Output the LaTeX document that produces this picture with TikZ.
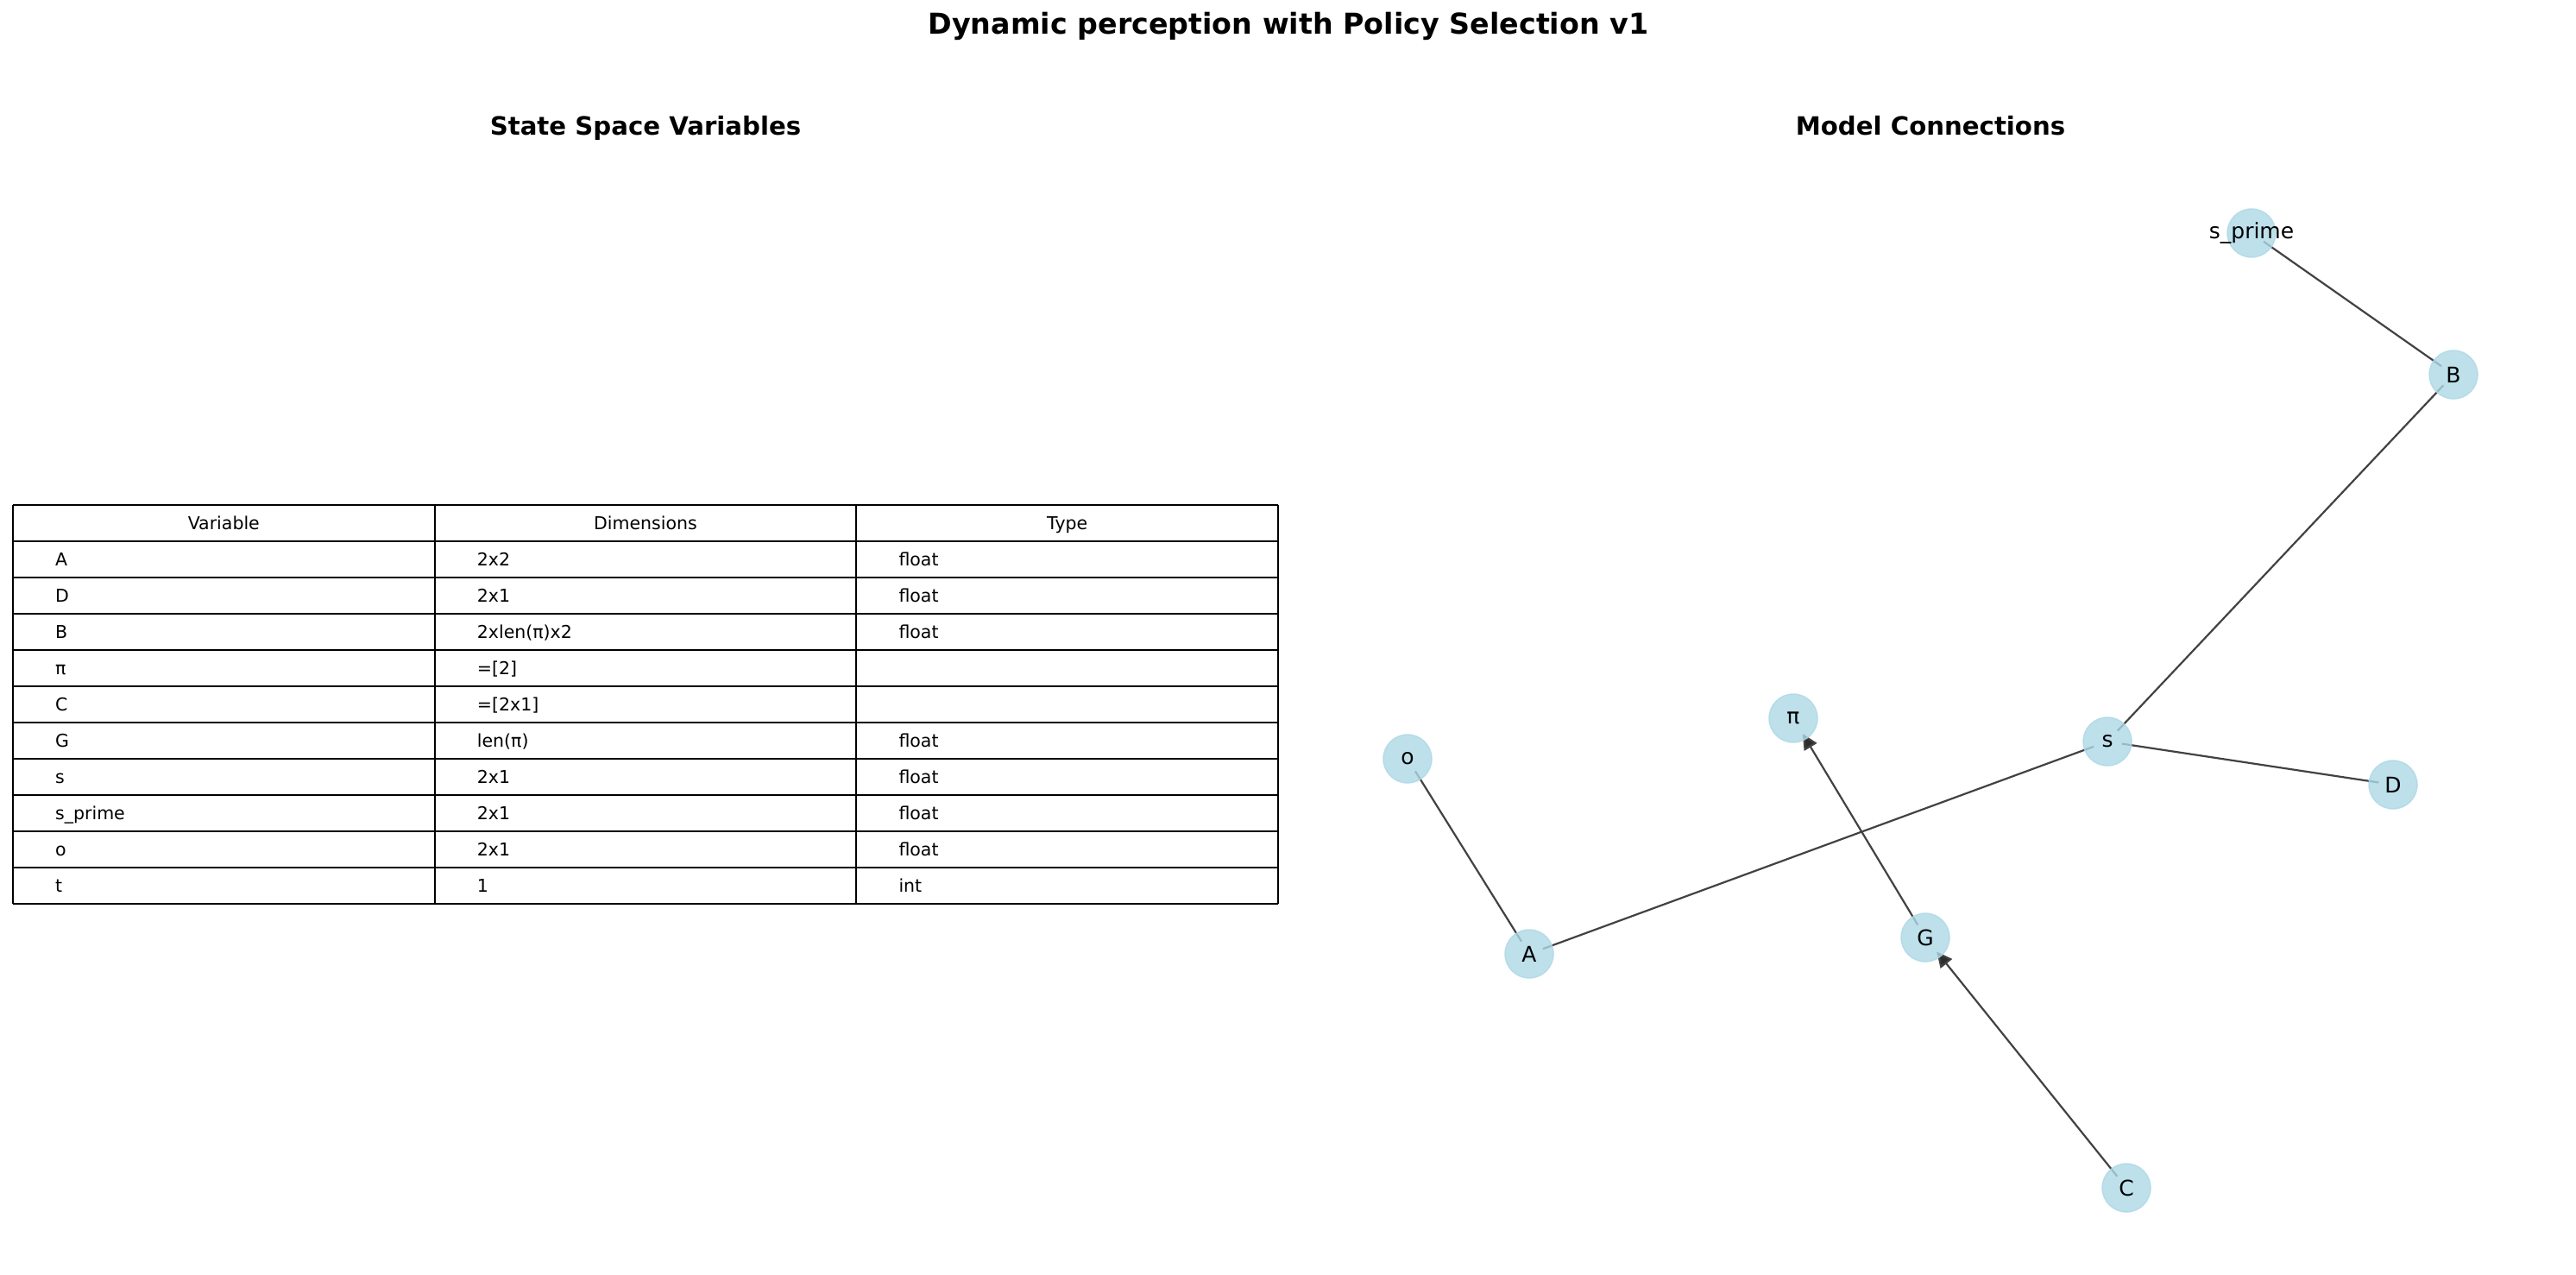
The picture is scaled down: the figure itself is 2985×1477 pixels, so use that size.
\documentclass[tikz,border=0pt]{standalone}
\usepackage{fontspec}
\setmainfont{DejaVu Sans}
\usetikzlibrary{arrows.meta}
\pgfdeclarelayer{background}
\pgfsetlayers{background,main}
\definecolor{nodeblue}{RGB}{173,216,230}
\definecolor{edgegray}{RGB}{66,66,66}
\definecolor{tipgray}{RGB}{45,45,45}
\begin{document}
\begin{tikzpicture}[x=1bp,y=-1bp,
  titlefont/.style={font=\fontsize{33.3bp}{40bp}\selectfont\bfseries},
  subfont/.style={font=\fontsize{29.2bp}{35bp}\selectfont\bfseries},
  cellfont/.style={font=\fontsize{20.5bp}{24bp}\selectfont, inner sep=0pt},
  gridline/.style={line width=2bp, black},
  vtx/.style={circle, minimum size=56bp, inner sep=0pt, fill=nodeblue, fill opacity=0.8,
    draw=nodeblue, draw opacity=0.8, line width=1.5bp, text opacity=1,
    font=\fontsize{25bp}{30bp}\selectfont},
  link/.style={edgegray, line width=2.2bp, shorten <=17bp, shorten >=17bp},
  arrowlink/.style={edgegray, line width=2.2bp, shorten <=17bp, shorten >=21bp,
    -{Triangle[length=18bp,width=17bp,fill=tipgray]}}
]
\useasboundingbox (0,0) rectangle (2985,1477);

% titles
\node[titlefont, anchor=base] (title) at (1493,40) {Dynamic perception with Policy Selection v1};
\node[subfont, anchor=base] (lefttitle) at (748,157) {State Space Variables};
\node[subfont, anchor=base] (righttitle) at (2237,157) {Model Connections};

% table grid
\foreach \i in {0,...,11} {
  \draw[gridline] (15,{585+42*\i}) -- (1481,{585+42*\i});
}
\foreach \x in {15,503.7,992.3,1481} {
  \draw[gridline] (\x,585) -- (\x,1047);
}
% header
\node[cellfont, anchor=base] (h1) at (259.3,613) {Variable};
\node[cellfont, anchor=base] (h2) at (748,613) {Dimensions};
\node[cellfont, anchor=base] (h3) at (1236.7,613) {Type};
% rows
\foreach \a/\b/\c [count=\i] in {
  A/2x2/float,
  D/2x1/float,
  B/{2xlen(π)x2}/float,
  π/{=[2]}/{},
  C/{=[2x1]}/{},
  G/{len(π)}/float,
  s/2x1/float,
  {s\_prime}/2x1/float,
  o/2x1/float,
  t/1/int} {
  \node[cellfont, anchor=base west] (va\i) at (64,{585+42*\i+28}) {\a};
  \node[cellfont, anchor=base west] (vb\i) at (552.7,{585+42*\i+28}) {\b};
  \node[cellfont, anchor=base west] (vc\i) at (1041.3,{585+42*\i+28}) {\c};
}

% graph nodes
\node[vtx] (sp) at (2609,270) {\makebox[0pt]{s\_prime}};
\node[vtx] (B) at (2843,434) {B};
\node[vtx] (s) at (2442,859) {s};
\node[vtx] (D) at (2773,909) {D};
\node[vtx] (pi) at (2078,832) {π};
\node[vtx] (o) at (1631,879) {o};
\node[vtx] (A) at (1772,1105) {A};
\node[vtx] (G) at (2231,1086) {G};
\node[vtx] (C) at (2464,1376) {C};

\begin{pgfonlayer}{background}
  \draw[link] (sp.center) -- (B.center);
  \draw[link] (B.center) -- (s.center);
  \draw[link] (s.center) -- (D.center);
  \draw[link] (s.center) -- (A.center);
  \draw[link] (o.center) -- (A.center);
  \draw[arrowlink] (G.center) -- (pi.center);
  \draw[arrowlink] (C.center) -- (G.center);
\end{pgfonlayer}
\end{tikzpicture}
\end{document}
